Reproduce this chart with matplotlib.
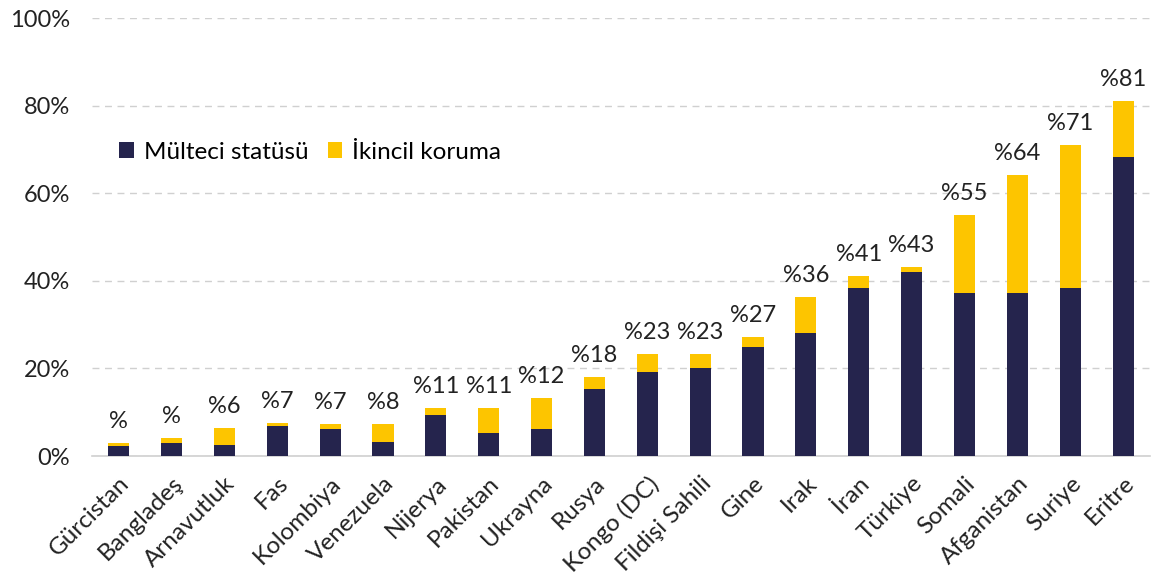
import matplotlib
matplotlib.use('Agg')
from matplotlib import pyplot as plt
import numpy as np

countries = ['Gürcistan', 'Bangladeş', 'Arnavutluk', 'Fas', 'Kolombiya', 'Venezuela',
             'Nijerya', 'Pakistan', 'Ukrayna', 'Rusya', 'Kongo (DC)', 'Fildişi Sahili',
             'Gine', 'Irak', 'İran', 'Türkiye', 'Somali', 'Afganistan', 'Suriye', 'Eritre']
multeci = [2.3, 3.0, 2.4, 6.8, 6.2, 3.1, 9.3, 5.2, 6.2, 15.3, 19.2, 20.2,
           25.0, 28.2, 38.3, 42.1, 37.3, 37.3, 38.3, 68.3]
toplam = [3.0, 4.0, 6.3, 7.5, 7.2, 7.2, 11.0, 11.0, 13.2, 18.0, 23.3, 23.3,
          27.2, 36.2, 41.1, 43.2, 55.0, 64.1, 71.0, 81.1]
etiketler = ['%', '%', '%6', '%7', '%7', '%8', '%11', '%11', '%12', '%18', '%23', '%23',
             '%27', '%36', '%41', '%43', '%55', '%64', '%71', '%81']

ikincil = [t - m for t, m in zip(toplam, multeci)]

plt.rcParams['font.family'] = ['Lato', 'DejaVu Sans']
navy = '#25244D'
gold = '#FDC500'

fig = plt.figure(figsize=(11.53, 5.85), dpi=100)
ax = fig.add_axes([0.08, 0.2205, 0.917, 0.7485])

x = np.arange(len(countries))
ax.bar(x, multeci, width=0.4, color=navy, label='Mülteci statüsü', zorder=3)
ax.bar(x, ikincil, width=0.4, bottom=multeci, color=gold, label='İkincil koruma', zorder=3)

for i, t in enumerate(toplam):
    ax.annotate(etiketler[i], (x[i], t), xytext=(0, 8), textcoords='offset points',
                ha='center', va='bottom', fontsize=17, color='#222222')

ax.set_xlim(-0.5, 19.5)
ax.set_ylim(0, 100)
ax.set_yticks([0, 20, 40, 60, 80, 100])
ax.set_yticklabels(['0%', '20%', '40%', '60%', '80%', '100%'], fontsize=17, color='#222222')
ax.yaxis.grid(True, linestyle=(0, (5, 4)), color='#d0d0d0', linewidth=1)
ax.set_axisbelow(True)

ax.set_xticks(x)
ax.set_xticklabels(countries, rotation=45, ha='right', rotation_mode='anchor',
                   fontsize=17.5, color='#222222')
ax.tick_params(axis='both', length=0)
ax.tick_params(axis='x', pad=12)
ax.tick_params(axis='y', pad=16)

for s in ['top', 'right', 'left']:
    ax.spines[s].set_visible(False)
ax.spines['bottom'].set_color('#d0d0d0')
ax.spines['bottom'].set_linewidth(1.2)

ax.legend(loc='center left', bbox_to_anchor=(0.005, 0.694), ncol=2, frameon=False,
          fontsize=17.5, handlelength=0.6, handleheight=0.6, handletextpad=0.4,
          columnspacing=0.8)

plt.savefig('out.png', dpi=100)
